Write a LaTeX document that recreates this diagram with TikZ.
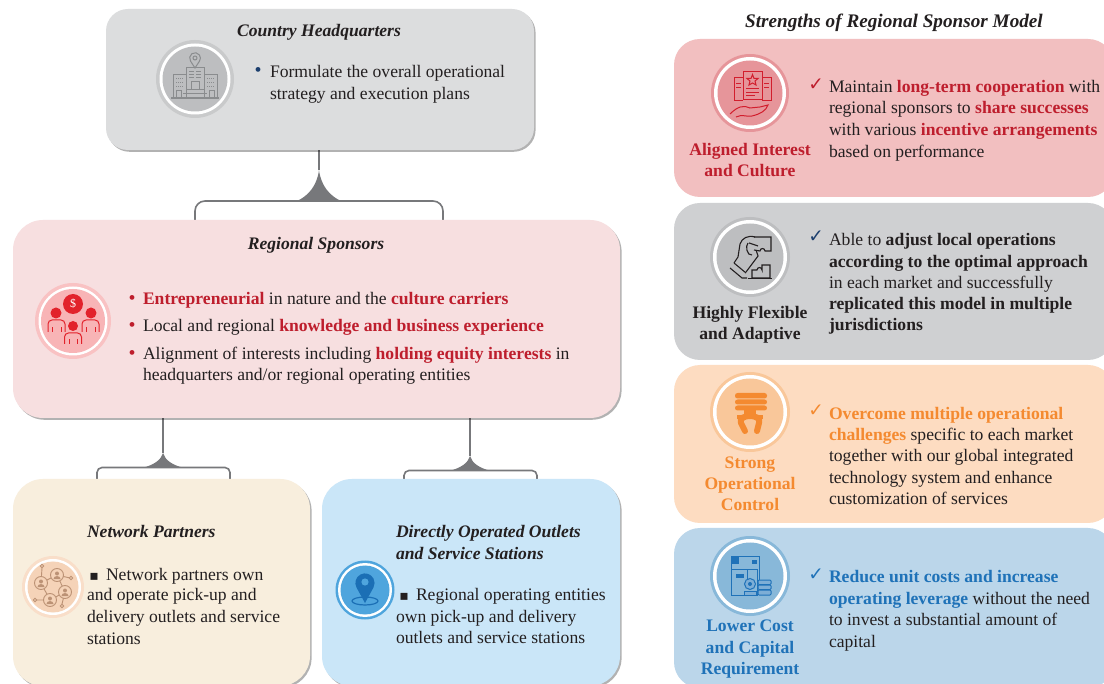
\documentclass[tikz,border=0pt]{standalone}
\usepackage{fontspec}
\setmainfont{Liberation Serif}
\newfontfamily\djv{DejaVu Sans}
\usetikzlibrary{shadows,calc}
\definecolor{ink}{HTML}{231F20}
\definecolor{conn}{HTML}{77787B}
\definecolor{cHQ}{HTML}{DCDDDE}
\definecolor{cRS}{HTML}{F7DFE0}
\definecolor{cNP}{HTML}{F8EEDD}
\definecolor{cDO}{HTML}{CAE6F8}
\definecolor{cPa}{HTML}{F2BFC0}
\definecolor{cPb}{HTML}{CFD0D2}
\definecolor{cPc}{HTML}{FDDCC1}
\definecolor{cPd}{HTML}{BBD6EA}
\definecolor{tRed}{HTML}{BE1E2D}
\definecolor{tOr}{HTML}{F48A30}
\definecolor{tBl}{HTML}{1F72B8}
\definecolor{tNavy}{HTML}{1C3F6E}
\definecolor{gOut}{HTML}{C9CACB}
\definecolor{gIn}{HTML}{BDBEC0}
\definecolor{gLine}{HTML}{8A8C8E}
\definecolor{rOut}{HTML}{F9C2C3}
\definecolor{rIn}{HTML}{F8B4B6}
\definecolor{rIc}{HTML}{E2222B}
\definecolor{nOut}{HTML}{F9DEC9}
\definecolor{nIn}{HTML}{F5D3B8}
\definecolor{nIc}{HTML}{BC9275}
\definecolor{dOut}{HTML}{4FA5DD}
\definecolor{dIc}{HTML}{1B6FB5}
\definecolor{aIn}{HTML}{E6959A}
\definecolor{aIc}{HTML}{D21E2D}
\definecolor{cIn}{HTML}{F9C79A}
\definecolor{eIn}{HTML}{88B8D9}
\newcommand{\rd}[1]{\textcolor{tRed}{\textbf{#1}}}
\newcommand{\og}[1]{\textcolor{tOr}{\textbf{#1}}}
\newcommand{\bl}[1]{\textcolor{tBl}{\textbf{#1}}}
\tikzset{
  x=1pt,y=-1pt,
  panel/.style={rectangle,anchor=north west,inner sep=0pt,outer sep=0pt},
  shadowed/.style={panel,drop shadow={shadow xshift=1.6pt,shadow yshift=-1.8pt,fill=black,opacity=.3}},
  txt/.style={anchor=base west,inner sep=0pt,outer sep=0pt,yshift=-1pt,text=ink,font=\fontsize{17.6}{20}\selectfont},
  ttl/.style={txt,font=\fontsize{17.6}{20}\selectfont\bfseries\itshape},
  lab/.style={anchor=base,inner sep=0pt,outer sep=0pt,yshift=-1pt,font=\fontsize{17.6}{20}\selectfont\bfseries},
  bul/.style={anchor=base,inner sep=0pt,outer sep=0pt,yshift=-1pt,font=\fontsize{20}{20}\selectfont},
  chk/.style={anchor=base,inner sep=0pt,outer sep=0pt,font=\djv\fontsize{18.5}{20}\selectfont},
  conline/.style={draw=conn,line width=1.6pt,rounded corners=10pt},
  flare/.style={fill=conn,draw=none},
}
\begin{document}
\begin{tikzpicture}
\useasboundingbox (0,0) rectangle (1104,684);
\clip (0,0) rectangle (1104,684);
\fill[white] (0,0) rectangle (1104,684);

% connector end points
\coordinate (hqS) at (319,150);
\coordinate (hqF) at (319,170);
\coordinate (hqL) at (195,222);
\coordinate (hqR) at (443,222);
\coordinate (rsA) at (163,418);
\coordinate (rsAF) at (163,453);
\coordinate (npL) at (97,482);
\coordinate (npR) at (230,482);
\coordinate (rsB) at (470,418);
\coordinate (rsBF) at (470,456);
\coordinate (doL) at (404,482);
\coordinate (doR) at (537,482);

% connectors
\draw[conn,line width=1.6pt] (hqS) -- (hqF);
\fill[flare] (hqF) .. controls (321,186) and (330,196) .. (341,201) -- (297,201) .. controls (308,196) and (317,186) .. (hqF);
\draw[conline] (hqL) -- (195,201) -- (443,201) -- (hqR);
\draw[conn,line width=1.6pt] (rsA) -- (rsAF);
\fill[flare] (rsAF) .. controls (165,460) and (172,465) .. (184,468) -- (142,468) .. controls (154,465) and (161,460) .. (rsAF);
\draw[conline,rounded corners=5pt] (npL) -- (97,467.5) -- (230,467.5) -- (npR);
\draw[conn,line width=1.6pt] (rsB) -- (rsBF);
\fill[flare] (rsBF) .. controls (472,463) and (479,468) .. (491,471) -- (449,471) .. controls (461,468) and (468,463) .. (rsBF);
\draw[conline,rounded corners=5pt] (doL) -- (404,470.5) -- (537,470.5) -- (doR);

% left boxes
\node[shadowed,fill=cHQ,rounded corners=22pt,minimum width=428pt,minimum height=141pt] (hq) at (106,9) {};
\node[shadowed,fill=cRS,rounded corners=30pt,minimum width=607pt,minimum height=198pt] (rs) at (13,220) {};
\node[shadowed,fill=cNP,rounded corners=30pt,minimum width=297pt,minimum height=207pt] (np) at (13,479) {};
\node[shadowed,fill=cDO,rounded corners=30pt,minimum width=298pt,minimum height=207pt] (do) at (322,479) {};

% right panels
\node[panel,fill=cPa,rounded corners=26pt,minimum width=440pt,minimum height=158pt] (pa) at (674,39) {};
\node[panel,fill=cPb,rounded corners=26pt,minimum width=440pt,minimum height=157pt] (pb) at (674,203) {};
\node[panel,fill=cPc,rounded corners=26pt,minimum width=440pt,minimum height=158pt] (pc) at (674,365) {};
\node[panel,fill=cPd,rounded corners=26pt,minimum width=440pt,minimum height=160pt] (pd) at (674,528) {};

% ---------- HQ
\node[ttl,anchor=base] (hqT) at (319,36) {Country Headquarters};
\fill[gOut] (195,79) circle (39);
\fill[white] (195,79) circle (35.5);
\fill[gIn] (195,79) circle (32.5);
\begin{scope}[draw=gLine,line width=1pt]
  \draw (186,97) -- (186,68) -- (204,68) -- (204,97);
  \draw (186,75) -- (173,75) -- (173,97);
  \draw (204,75) -- (217,75) -- (217,97);
  \draw[line width=2pt] (171,98.5) -- (219,98.5);
  \draw (191,90) -- (191,82) -- (199,82) -- (199,90);
  \draw (186,90) -- (204,90) (183,94) -- (207,94);
  \draw (189,72) -- (194,72) (196,72) -- (201,72) (189,75) -- (194,75) (196,75) -- (201,75) (189,78) -- (194,78) (196,78) -- (201,78);
  \draw (195,68) -- (190.6,61.2) arc[start angle=145,end angle=395,radius=5.4] -- cycle;
  \draw (195,58) circle (2);
  \foreach \yy in {79,83,87}{\draw[densely dotted] (176,\yy) -- (184,\yy); \draw[densely dotted] (207,\yy) -- (215,\yy);}
  \draw (176,97) -- (176,91) -- (181,91) -- (181,97);
  \draw (209,97) -- (209,91) -- (214,91) -- (214,97);
\end{scope}
\node[bul,text=tNavy] (hqB) at (258,76) {•};
\node[txt] (hqA) at (270,77) {Formulate the overall operational};
\node[txt] (hqC) at (270,99) {strategy and execution plans};

% ---------- Regional sponsors
\node[ttl,anchor=base] (rsT) at (316,249) {Regional Sponsors};
\fill[rOut] (73,321) circle (38);
\fill[white] (73,321) circle (34.5);
\fill[rIn] (73,321) circle (32);
\fill[rIc] (73,304) circle (10);
\node[inner sep=0pt,text=white,font=\fontsize{12}{12}\selectfont] (rsD) at (73,304) {\$};
\fill[rIc] (56,313) circle (5.5) (91,313) circle (5.5) (73,326) circle (5);
\begin{scope}[draw=rIc,line width=1pt,rounded corners=4pt]
  \draw (48,332) -- (48,320) -- (65,320) -- (65,332);
  \draw (82,332) -- (82,320) -- (99,320) -- (99,332);
  \draw (64.5,344) -- (64.5,333) -- (81.5,333) -- (81.5,344);
  \draw[rounded corners=0pt] (52,332) -- (52,327) (61,332) -- (61,327) (86,332) -- (86,327) (95,332) -- (95,327) (69,344) -- (69,339) (77,344) -- (77,339);
\end{scope}
\node[bul,text=tRed] (rsB1) at (132,304) {•};
\node[txt] (rs1) at (143,304) {\rd{Entrepreneurial} in nature and the \rd{culture carriers}};
\node[bul,text=tRed] (rsB2) at (132,331) {•};
\node[txt] (rs2) at (143,331) {Local and regional \rd{knowledge and business experience}};
\node[bul,text=tRed] (rsB3) at (132,359) {•};
\node[txt] (rs3) at (143,359) {Alignment of interests including \rd{holding equity interests} in};
\node[txt] (rs4) at (143,380) {headquarters and/or regional operating entities};

% ---------- Network partners
\node[ttl] (npT) at (87,536) {Network Partners};
\fill[nOut] (53,587) circle (31);
\fill[white] (53,587) circle (28);
\fill[nIn] (53,587) circle (25.5);
\begin{scope}[draw=nIc,fill=nIc,line width=.9pt]
  \draw (41,583) -- (57,575) -- (65,592) -- (50,600) -- cycle;
  \draw (41,583) -- (42,568) (57,575) -- (70,578) (50,600) -- (36,600) (65,592) -- (62,604);
  \foreach \px/\py in {41/583,57/575,65/592,50/600}{
    \filldraw[fill=nIn] (\px,\py) circle (6.5);
    \fill (\px,\py-1.5) circle (2);
    \fill (\px-3.5,\py+4) arc[start angle=180,end angle=360,x radius=3.5,y radius=3] -- cycle;
  }
  \draw[fill=none] (42,566) circle (1.8) (71,578) circle (1.8) (35,600) circle (1.8) (62,606) circle (1.8);
\end{scope}
\node[bul,text=ink,font=\djv\fontsize{14}{14}\selectfont] (npB) at (94,579) {▪};
\node[txt] (np1) at (106,579) {Network partners own};
\node[txt] (np2) at (87,600) {and operate pick-up and};
\node[txt] (np3) at (87,622) {delivery outlets and service};
\node[txt] (np4) at (87,643) {stations};

% ---------- Directly operated
\node[ttl] (doT1) at (396,536) {Directly Operated Outlets};
\node[ttl] (doT2) at (396,558) {and Service Stations};
\fill[dOut] (365,590) circle (29.5);
\fill[white] (365,590) circle (27);
\fill[dOut] (365,590) circle (24.5);
\draw[dIc,line width=1.2pt] (365,601) ellipse (13 and 4);
\fill[dIc] (365,603) -- (356.5,587.5) arc[start angle=152,end angle=388,radius=9.6] -- cycle;
\fill[dOut] (365,582) circle (3.6);
\node[bul,text=ink,font=\djv\fontsize{14}{14}\selectfont] (doB) at (404,600) {▪};
\node[txt] (do1) at (416,600) {Regional operating entities};
\node[txt] (do2) at (396,621) {own pick-up and delivery};
\node[txt] (do3) at (396,642) {outlets and service stations};

% ---------- Right column
\node[ttl,anchor=base,font=\fontsize{19.2}{20}\selectfont\bfseries\itshape] (rT) at (894,27) {Strengths of Regional Sponsor Model};

% P1
\fill[aIn] (750,93) circle (39);
\fill[white] (750,93) circle (36);
\fill[aIn] (750,93) circle (32.5);
\begin{scope}[draw=aIc,line width=1pt]
  \draw (743,72) rectangle (762,100);
  \draw (743,78) -- (734,78) -- (734,101) -- (743,101);
  \draw (762,78) -- (771,78) -- (771,101) -- (762,101);
  \draw (752.5,74.5) -- (754,78.5) -- (758,78.5) -- (755,81) -- (756,85) -- (752.5,83) -- (749,85) -- (750,81) -- (747,78.5) -- (751,78.5) -- cycle;
  \draw (746,89) -- (759,89) (746,92.5) -- (759,92.5) (746,96) -- (755,96);
  \draw (736,84) -- (741,84) (736,88) -- (741,88) (764,84) -- (769,84) (764,88) -- (769,88);
  \draw (730,114) .. controls (738,106) and (744,105) .. (750,108) -- (760,107) -- (768,105) .. controls (766,111) and (760,114) .. (752,116) .. controls (746,117) and (742,114) .. (736,117);
\end{scope}
\node[chk,text=tRed] (c1) at (816,91) {✓};
\node[txt] (p11) at (829,92) {Maintain \rd{long-term cooperation} with};
\node[txt] (p12) at (829,113) {regional sponsors to \rd{share successes}};
\node[txt] (p13) at (829,135) {with various \rd{incentive arrangements}};
\node[txt] (p14) at (829,157) {based on performance};
\node[lab,text=tRed] (l11) at (750,155) {Aligned Interest};
\node[lab,text=tRed] (l12) at (750,176) {and Culture};

% P2
\fill[gIn] (750,257) circle (40);
\fill[white] (750,257) circle (37);
\fill[gIn] (750,257) circle (33.5);
\begin{scope}[draw=ink,line width=1.1pt]
  \draw (754,237) -- (771,237) -- (771,251) -- (765,251) arc[start angle=0,end angle=-180,radius=2.5] -- (754,250);
  \draw (752,270) -- (757,270) arc[start angle=180,end angle=360,radius=2.5] -- (762,265) -- (770,265) -- (770,278) -- (752,278) -- cycle;
  \draw[line width=1.5pt] (748,278.5) -- (772,278.5);
  \draw (730,268) -- (742,278) -- (747,278);
  \draw (734,263) -- (746,273);
  \draw (734,263) -- (738,257) -- (740,244) .. controls (742,238) and (748,235) .. (755,237);
  \draw (746,272) -- (758,256) -- (756,250);
  \draw (748,243) .. controls (745,246) and (747,256) .. (752,255);
  \draw (749,243) -- (758,246);
\end{scope}
\node[chk,text=tNavy] (c2) at (816,243) {✓};
\node[txt] (p21) at (829,245) {Able to \textbf{adjust local operations}};
\node[txt] (p22) at (829,267) {\textbf{according to the optimal approach}};
\node[txt] (p23) at (829,288) {in each market and successfully};
\node[txt] (p24) at (829,309) {\textbf{replicated this model in multiple}};
\node[txt] (p25) at (829,330) {\textbf{jurisdictions}};
\node[lab,text=ink] (l21) at (750,318) {Highly Flexible};
\node[lab,text=ink] (l22) at (750,339) {and Adaptive};

% P3
\fill[cIn] (750,412) circle (40);
\fill[white] (750,412) circle (37);
\fill[cIn] (750,412) circle (33.5);
\begin{scope}[fill=tOr,draw=tOr]
  \fill[rounded corners=2.5pt] (735,393) rectangle (767,398.5) (735,399.5) rectangle (767,404.5) (735,405.5) rectangle (767,410.5);
  \draw[line width=6pt,line cap=round] (745,431) -- (741,423) .. controls (739,418) and (745,416) .. (750,416) .. controls (755,416) and (761,418) .. (759,423) -- (757,431);
  \fill (744,410) rectangle (756,416);
  \fill (737,415) rectangle (763,419);
\end{scope}
\node[chk,text=tOr] (c3) at (816,417) {✓};
\node[txt] (p31) at (829,419) {\og{Overcome multiple operational}};
\node[txt] (p32) at (829,440) {\og{challenges} specific to each market};
\node[txt] (p33) at (829,461) {together with our global integrated};
\node[txt] (p34) at (829,483) {technology system and enhance};
\node[txt] (p35) at (829,504) {customization of services};
\node[lab,text=tOr] (l31) at (750,468) {Strong};
\node[lab,text=tOr] (l32) at (750,489) {Operational};
\node[lab,text=tOr] (l33) at (750,510) {Control};

% P4
\fill[eIn] (750,576) circle (40);
\fill[white] (750,576) circle (37);
\fill[eIn] (750,576) circle (33.5);
\begin{scope}[draw=tBl,fill=tBl,line width=1pt]
  \draw (731,570) -- (731,557) -- (759,557) -- (759,580);
  \filldraw (732,558) rectangle (738,564);
  \fill (752,560) rectangle (757,564);
  \draw (731,570) rectangle (757,595);
  \fill (736,574) rectangle (744,578);
  \draw (747,570) -- (747,582);
  \draw[fill=cPd!60!tBl] (750,584) circle (5.5);
  \fill (750,584) circle (2);
  \draw[fill=cPd!60!tBl,rounded corners=1pt] (758,580) rectangle (771,584.5) (758,585) rectangle (771,589.5) (758,590) rectangle (771,595);
  \draw[fill=cPd!60!tBl] (744,591) rectangle (756,595);
\end{scope}
\node[chk,text=tBl] (c4) at (816,580) {✓};
\node[txt] (p41) at (829,582) {\bl{Reduce unit costs and increase}};
\node[txt] (p42) at (829,603) {\bl{operating leverage} without the need};
\node[txt] (p43) at (829,624) {to invest a substantial amount of};
\node[txt] (p44) at (829,646) {capital};
\node[lab,text=tBl] (l41) at (750,630) {Lower Cost};
\node[lab,text=tBl] (l42) at (750,652) {and Capital};
\node[lab,text=tBl] (l43) at (750,673) {Requirement};
\end{tikzpicture}
\end{document}
